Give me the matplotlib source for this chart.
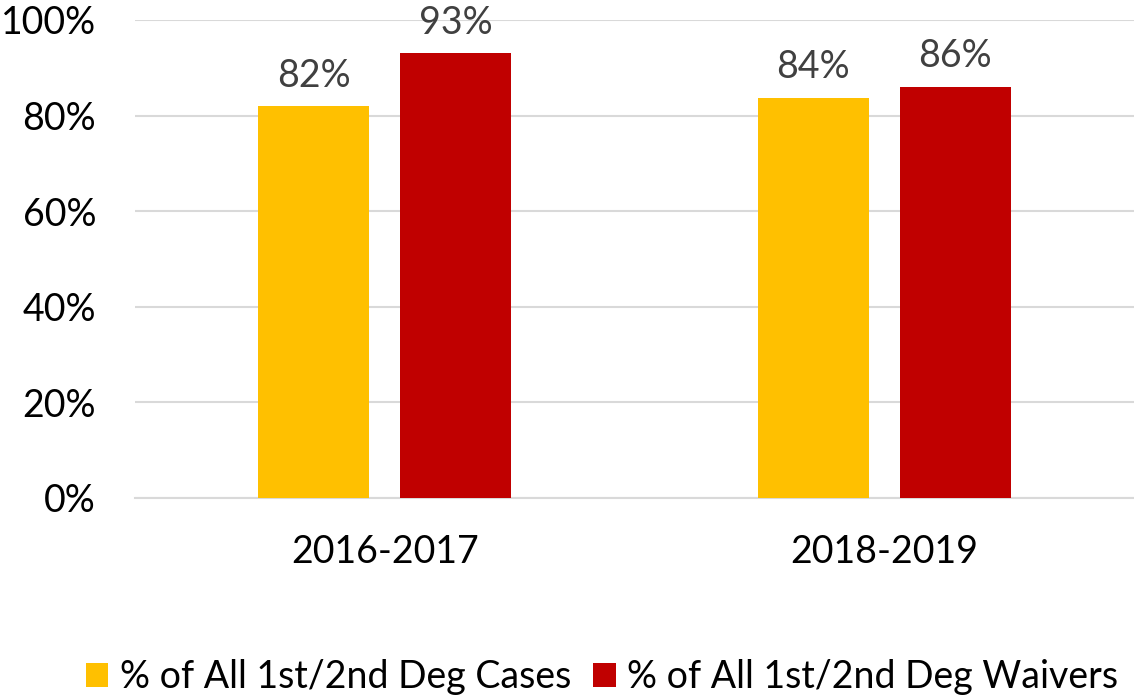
import matplotlib

matplotlib.use("Agg")
from matplotlib import pyplot as plt
import numpy as np

periods = ["2016-2017", "2018-2019"]
series_names = ["% of All 1st/2nd Deg Cases", "% of All 1st/2nd Deg Waivers"]
cases_pct = [82, 83.7]
waivers_pct = [93, 86]
value_labels_cases = ["82%", "84%"]
value_labels_waivers = ["93%", "86%"]
yticks = [0, 20, 40, 60, 80, 100]

colors = ["#FFC000", "#C00000"]

plt.rcParams["font.family"] = ["Lato", "DejaVu Sans"]

fig = plt.figure(figsize=(11.34, 6.97), dpi=100)
ax = fig.add_axes([135 / 1134, 199 / 697, 1 - 135 / 1134, 478 / 697])

x = np.arange(len(periods))
width = 0.222
offset = width / 2 + 0.031

bars_c = ax.bar(x - offset, cases_pct, width, color=colors[0], label=series_names[0], zorder=3)
bars_w = ax.bar(x + offset, waivers_pct, width, color=colors[1], label=series_names[1], zorder=3)

for bars, labels in ((bars_c, value_labels_cases), (bars_w, value_labels_waivers)):
    for bar, text in zip(bars, labels):
        ax.annotate(
            text,
            (bar.get_x() + bar.get_width() / 2, bar.get_height()),
            xytext=(0, 9),
            textcoords="offset points",
            ha="center",
            va="bottom",
            fontsize=27,
            color="#404040",
            annotation_clip=False,
        )

ax.set_xlim(-0.5, len(periods) - 0.5)
ax.set_ylim(0, 100)
ax.set_yticks(yticks)
ax.set_yticklabels([f"{t}%" for t in yticks], fontsize=27)
ax.set_xticks(x)
ax.set_xticklabels(periods, fontsize=27)
ax.tick_params(axis="y", length=0, pad=28)
ax.tick_params(axis="x", length=0, pad=26)
ax.grid(axis="y", color="#D9D9D9", linewidth=1.5, zorder=0)
for side in ("top", "right", "left"):
    ax.spines[side].set_visible(False)
ax.spines["bottom"].set_color("#D9D9D9")
ax.spines["bottom"].set_linewidth(1.5)

fig.legend(
    loc="center",
    bbox_to_anchor=(602 / 1134, 1 - 677 / 697),
    ncol=2,
    frameon=False,
    fontsize=27,
    handlelength=0.6,
    handleheight=0.6,
    handletextpad=0.3,
    columnspacing=0.6,
)

fig.savefig("out.png", dpi=100)
plt.close(fig)
